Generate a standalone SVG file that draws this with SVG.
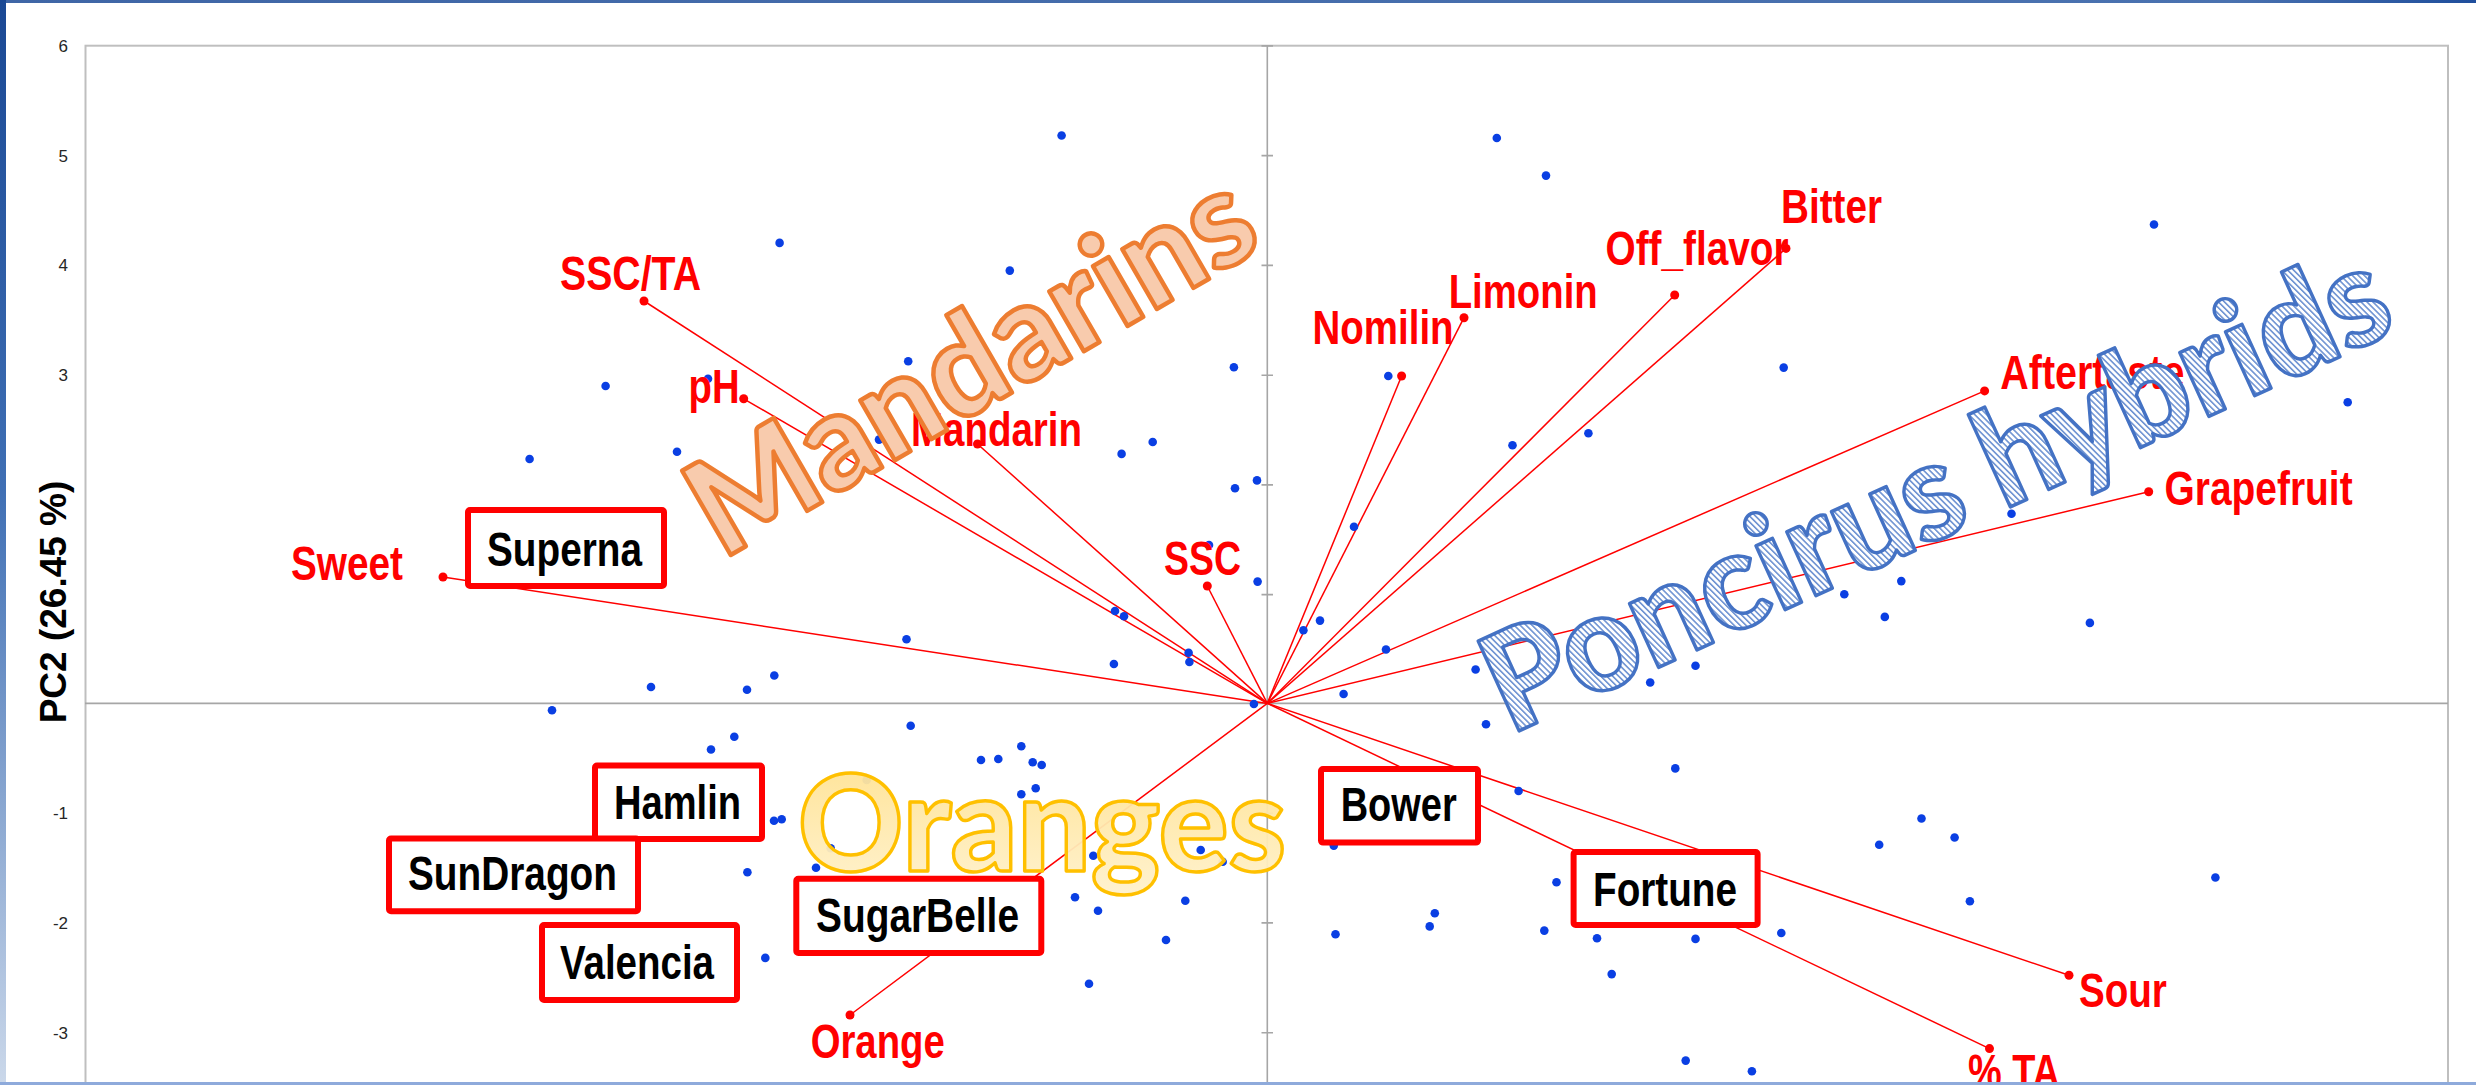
<svg xmlns="http://www.w3.org/2000/svg" width="2476" height="1085" viewBox="0 0 2476 1085">
<style>
.axis{stroke:#a6a6a6;stroke-width:1.6;fill:none}
.frame{stroke:#bfbfbf;stroke-width:2;fill:none}
.vec{stroke:#ff0000;stroke-width:1.5;fill:none}
.pt{fill:#0a3fe3}
.rp{fill:#ff0000}
.lbl{font-family:"Liberation Sans Narrow","Liberation Sans",Arial,sans-serif;font-weight:bold;font-size:48px;fill:#ff0000}
.box rect{fill:#ffffff;stroke:#ff0000;stroke-width:6}
.box text{font-family:"Liberation Sans Narrow","Liberation Sans",Arial,sans-serif;font-weight:bold;font-size:48px;fill:#000000}
.tick{font-family:"Liberation Sans",Arial,sans-serif;font-size:17px;fill:#262626;text-anchor:end}
.big{font-family:Lato,"Open Sans",sans-serif;font-weight:900}
</style>
<defs>
<linearGradient id="gTop" x1="0" y1="0" x2="1" y2="0">
<stop offset="0" stop-color="#3f66a6"/><stop offset="0.9" stop-color="#4a72b0"/><stop offset="1" stop-color="#1f4e9c"/>
</linearGradient>
<linearGradient id="gLeft" x1="0" y1="0" x2="0" y2="1">
<stop offset="0" stop-color="#1a4894"/><stop offset="0.45" stop-color="#3f6fb4"/><stop offset="1" stop-color="#cbd8ea"/>
</linearGradient>
<linearGradient id="gOr" x1="0" y1="0" x2="0" y2="1">
<stop offset="0" stop-color="#ffe08a"/><stop offset="1" stop-color="#fff2cf"/>
</linearGradient>
<pattern id="hatch" patternUnits="userSpaceOnUse" width="4.2" height="4.2" patternTransform="rotate(-20.5)">
<rect width="4.2" height="4.2" fill="#ffffff"/>
<rect width="1.6" height="4.2" fill="#6f93d2"/>
</pattern>
</defs>
<rect x="0" y="0" width="2476" height="1085" fill="#ffffff"/>
<g id="plot">
<rect class="frame" x="85.5" y="45.7" width="2362.5" height="1060"/>
<line class="axis" x1="85" y1="703.4" x2="2448" y2="703.4"/>
<line class="axis" x1="1267.3" y1="45.7" x2="1267.3" y2="1085"/>
<path class="axis" d="M1261.5 45.9H1273M1261.5 155.6H1273M1261.5 265.4H1273M1261.5 375.2H1273M1261.5 484.9H1273M1261.5 594.6H1273M1261.5 813.2H1273M1261.5 922.9H1273M1261.5 1032.7H1273"/>
</g>
<g id="connectors">
<line class="vec" x1="1267.3" y1="703.4" x2="644" y2="301"/>
<line class="vec" x1="1267.3" y1="703.4" x2="743.7" y2="398.8"/>
<line class="vec" x1="1267.3" y1="703.4" x2="977.5" y2="444"/>
<line class="vec" x1="1267.3" y1="703.4" x2="443" y2="577"/>
<line class="vec" x1="1267.3" y1="703.4" x2="1207.3" y2="586"/>
<line class="vec" x1="1267.3" y1="703.4" x2="850" y2="1015"/>
<line class="vec" x1="1267.3" y1="703.4" x2="1401.6" y2="376"/>
<line class="vec" x1="1267.3" y1="703.4" x2="1464" y2="317.7"/>
<line class="vec" x1="1267.3" y1="703.4" x2="1674.7" y2="295"/>
<line class="vec" x1="1267.3" y1="703.4" x2="1786" y2="248.4"/>
<line class="vec" x1="1267.3" y1="703.4" x2="1984.6" y2="390.9"/>
<line class="vec" x1="1267.3" y1="703.4" x2="2148.7" y2="491.7"/>
<line class="vec" x1="1267.3" y1="703.4" x2="2069" y2="975.3"/>
<line class="vec" x1="1267.3" y1="703.4" x2="1989.5" y2="1048.6"/>
</g>
<g id="scores">
<circle class="pt" cx="1061.6" cy="135.5" r="4.3"/><circle class="pt" cx="779.6" cy="242.9" r="4.3"/><circle class="pt" cx="1009.8" cy="270.6" r="4.3"/><circle class="pt" cx="908.2" cy="361.2" r="4.3"/><circle class="pt" cx="1233.9" cy="367.3" r="4.3"/><circle class="pt" cx="605.6" cy="386" r="4.3"/><circle class="pt" cx="708" cy="378.8" r="4.3"/><circle class="pt" cx="677" cy="451.8" r="4.3"/><circle class="pt" cx="529.6" cy="459" r="4.3"/><circle class="pt" cx="879" cy="439.6" r="4.3"/><circle class="pt" cx="1121.6" cy="453.9" r="4.3"/><circle class="pt" cx="1152.7" cy="442" r="4.3"/><circle class="pt" cx="1235" cy="488.2" r="4.3"/><circle class="pt" cx="1257" cy="480.4" r="4.3"/><circle class="pt" cx="1209" cy="545" r="4.3"/><circle class="pt" cx="1257.6" cy="581.6" r="4.3"/><circle class="pt" cx="1115" cy="611" r="4.3"/><circle class="pt" cx="1124" cy="616.3" r="4.3"/><circle class="pt" cx="906.5" cy="639.2" r="4.3"/><circle class="pt" cx="1188.6" cy="652.7" r="4.3"/><circle class="pt" cx="1189.4" cy="662" r="4.3"/><circle class="pt" cx="1113.9" cy="664" r="4.3"/><circle class="pt" cx="774.3" cy="675.5" r="4.3"/><circle class="pt" cx="651" cy="687" r="4.3"/><circle class="pt" cx="747" cy="689.8" r="4.3"/><circle class="pt" cx="1253.9" cy="704" r="4.3"/><circle class="pt" cx="552" cy="710.2" r="4.3"/>
<circle class="pt" cx="734.3" cy="736.7" r="4.3"/><circle class="pt" cx="711" cy="749.5" r="4.3"/><circle class="pt" cx="910.7" cy="725.7" r="4.3"/><circle class="pt" cx="981" cy="760" r="4.3"/><circle class="pt" cx="998.3" cy="759" r="4.3"/><circle class="pt" cx="1021.3" cy="746.3" r="4.3"/><circle class="pt" cx="1032.7" cy="762.3" r="4.3"/><circle class="pt" cx="1041.7" cy="765" r="4.3"/><circle class="pt" cx="1035.7" cy="788.3" r="4.3"/><circle class="pt" cx="1021.3" cy="794.3" r="4.3"/><circle class="pt" cx="866.7" cy="780" r="4.3"/><circle class="pt" cx="781.7" cy="819.3" r="4.3"/><circle class="pt" cx="774" cy="820.7" r="4.3"/><circle class="pt" cx="830.7" cy="848.3" r="4.3"/><circle class="pt" cx="816" cy="867.7" r="4.3"/><circle class="pt" cx="747.4" cy="872.3" r="4.3"/><circle class="pt" cx="765.3" cy="957.9" r="4.3"/><circle class="pt" cx="1093.3" cy="855.7" r="4.3"/><circle class="pt" cx="1200.7" cy="850" r="4.3"/><circle class="pt" cx="1222.7" cy="861.7" r="4.3"/><circle class="pt" cx="1075" cy="897.3" r="4.3"/><circle class="pt" cx="1098" cy="910.7" r="4.3"/><circle class="pt" cx="1185.3" cy="900.7" r="4.3"/><circle class="pt" cx="1166" cy="940" r="4.3"/><circle class="pt" cx="1089" cy="983.7" r="4.3"/>
<circle class="pt" cx="1388.3" cy="376" r="4.3"/><circle class="pt" cx="1496.8" cy="138" r="4.3"/><circle class="pt" cx="1546" cy="175.6" r="4.3"/><circle class="pt" cx="2154" cy="224.5" r="4.3"/><circle class="pt" cx="1783.7" cy="367.6" r="4.3"/><circle class="pt" cx="1354" cy="526.7" r="4.3"/><circle class="pt" cx="1303.4" cy="630.2" r="4.3"/><circle class="pt" cx="1320" cy="620.6" r="4.3"/><circle class="pt" cx="1386" cy="649.5" r="4.3"/><circle class="pt" cx="1512.5" cy="445.2" r="4.3"/><circle class="pt" cx="1588.4" cy="433.2" r="4.3"/><circle class="pt" cx="2347.7" cy="402.2" r="4.3"/><circle class="pt" cx="1343.6" cy="694" r="4.3"/><circle class="pt" cx="1475.6" cy="669.5" r="4.3"/><circle class="pt" cx="2011.5" cy="513.7" r="4.3"/><circle class="pt" cx="1901.3" cy="581.1" r="4.3"/><circle class="pt" cx="1844.3" cy="594.2" r="4.3"/><circle class="pt" cx="1884.8" cy="616.9" r="4.3"/><circle class="pt" cx="2089.9" cy="622.9" r="4.3"/><circle class="pt" cx="1695.5" cy="665.8" r="4.3"/><circle class="pt" cx="1650.2" cy="682.5" r="4.3"/>
<circle class="pt" cx="1486" cy="724.2" r="4.3"/><circle class="pt" cx="1675.3" cy="768.4" r="4.3"/><circle class="pt" cx="1518.6" cy="791" r="4.3"/><circle class="pt" cx="1921.5" cy="818.5" r="4.3"/><circle class="pt" cx="1954.6" cy="837.5" r="4.3"/><circle class="pt" cx="1879.2" cy="844.7" r="4.3"/><circle class="pt" cx="2215.4" cy="877.5" r="4.3"/><circle class="pt" cx="1556.5" cy="882.3" r="4.3"/><circle class="pt" cx="1969.9" cy="901.3" r="4.3"/><circle class="pt" cx="1544.3" cy="930.6" r="4.3"/><circle class="pt" cx="1597" cy="938.3" r="4.3"/><circle class="pt" cx="1695.5" cy="938.9" r="4.3"/><circle class="pt" cx="1781.3" cy="933" r="4.3"/><circle class="pt" cx="1611.7" cy="974.1" r="4.3"/><circle class="pt" cx="1685.7" cy="1060.6" r="4.3"/><circle class="pt" cx="1751.9" cy="1071.3" r="4.3"/><circle class="pt" cx="1333.8" cy="845.6" r="4.3"/><circle class="pt" cx="1335.5" cy="934.3" r="4.3"/><circle class="pt" cx="1434.8" cy="913.3" r="4.3"/><circle class="pt" cx="1429.7" cy="926.4" r="4.3"/>
</g>
<g id="var-ssc-ta"><circle class="rp" cx="644" cy="301" r="4.5"/><text class="lbl" x="560" y="290" textLength="141" lengthAdjust="spacingAndGlyphs">SSC/TA</text></g>
<g id="var-ph"><circle class="rp" cx="743.7" cy="398.8" r="4.5"/><text class="lbl" x="688.6" y="403" textLength="51" lengthAdjust="spacingAndGlyphs">pH</text></g>
<g id="var-mandarin"><circle class="rp" cx="977.5" cy="444" r="4.5"/><text class="lbl" x="911" y="446" textLength="171" lengthAdjust="spacingAndGlyphs">Mandarin</text></g>
<g id="var-sweet"><circle class="rp" cx="443" cy="577" r="4.5"/><text class="lbl" x="291" y="580" textLength="112" lengthAdjust="spacingAndGlyphs">Sweet</text></g>
<g id="var-ssc"><circle class="rp" cx="1207.3" cy="586" r="4.5"/><text class="lbl" x="1164" y="574.7" textLength="77" lengthAdjust="spacingAndGlyphs">SSC</text></g>
<g id="var-orange"><circle class="rp" cx="850" cy="1015" r="4.5"/><text class="lbl" x="810.7" y="1058.3" textLength="134" lengthAdjust="spacingAndGlyphs">Orange</text></g>
<g id="var-nomilin"><circle class="rp" cx="1401.6" cy="376" r="4.5"/><text class="lbl" x="1312.6" y="344" textLength="141" lengthAdjust="spacingAndGlyphs">Nomilin</text></g>
<g id="var-limonin"><circle class="rp" cx="1464" cy="317.7" r="4.5"/><text class="lbl" x="1448.7" y="308" textLength="149" lengthAdjust="spacingAndGlyphs">Limonin</text></g>
<g id="var-off-flavor"><circle class="rp" cx="1674.7" cy="295" r="4.5"/><text class="lbl" x="1605.5" y="264.5" textLength="183" lengthAdjust="spacingAndGlyphs">Off_flavor</text></g>
<g id="var-bitter"><circle class="rp" cx="1786" cy="248.4" r="4.5"/><text class="lbl" x="1781" y="222.7" textLength="101" lengthAdjust="spacingAndGlyphs">Bitter</text></g>
<g id="var-aftertaste"><circle class="rp" cx="1984.6" cy="390.9" r="4.5"/><text class="lbl" x="2000.3" y="388.5" textLength="184" lengthAdjust="spacingAndGlyphs">Aftertaste</text></g>
<g id="var-grapefruit"><circle class="rp" cx="2148.7" cy="491.7" r="4.5"/><text class="lbl" x="2164.6" y="504.8" textLength="188" lengthAdjust="spacingAndGlyphs">Grapefruit</text></g>
<g id="var-sour"><circle class="rp" cx="2069" cy="975.3" r="4.5"/><text class="lbl" x="2078.9" y="1006.9" textLength="88" lengthAdjust="spacingAndGlyphs">Sour</text></g>
<g id="var-ta"><circle class="rp" cx="1989.5" cy="1048.6" r="4.5"/><text class="lbl" x="1968" y="1088" textLength="92" lengthAdjust="spacingAndGlyphs">% TA</text></g>
<g id="superna" class="box"><rect x="468" y="510" width="196" height="76" rx="2"/><text x="487" y="566" textLength="155" lengthAdjust="spacingAndGlyphs">Superna</text></g>
<g id="hamlin" class="box"><rect x="595" y="765.6" width="167" height="73.4" rx="2"/><text x="614" y="819.4" textLength="127" lengthAdjust="spacingAndGlyphs">Hamlin</text></g>
<g id="sundragon" class="box"><rect x="389" y="838.6" width="249" height="72.6" rx="2"/><text x="408" y="890" textLength="209" lengthAdjust="spacingAndGlyphs">SunDragon</text></g>
<g id="valencia" class="box"><rect x="542" y="925" width="195" height="75" rx="2"/><text x="560" y="979" textLength="154" lengthAdjust="spacingAndGlyphs">Valencia</text></g>
<g id="sugarbelle" class="box"><rect x="796.3" y="878.7" width="245" height="74.3" rx="2"/><text x="816" y="931.7" textLength="203" lengthAdjust="spacingAndGlyphs">SugarBelle</text></g>
<g id="bower" class="box"><rect x="1321" y="769" width="157" height="73.6" rx="2"/><text x="1340.7" y="820.7" textLength="116" lengthAdjust="spacingAndGlyphs">Bower</text></g>
<g id="fortune" class="box"><rect x="1573.6" y="852" width="184" height="73" rx="2"/><text x="1593" y="906" textLength="144" lengthAdjust="spacingAndGlyphs">Fortune</text></g>
<g id="group-labels">
<text class="big" transform="translate(722,560) rotate(-30)" x="0" y="0" font-size="134" fill="#f8cbad" stroke="#ed7d31" stroke-width="4.5" stroke-linejoin="round" textLength="628" lengthAdjust="spacingAndGlyphs">Mandarins</text>
<text class="big" x="798" y="871" font-size="134" fill="url(#gOr)" fill-opacity="0.95" stroke="#ffc000" stroke-width="3.5" stroke-linejoin="round" textLength="488" lengthAdjust="spacingAndGlyphs">Oranges</text>
<text class="big" transform="translate(1510,735) rotate(-24.5)" x="0" y="0" font-size="136" fill="url(#hatch)" stroke="#4472c4" stroke-width="3.5" stroke-linejoin="round" textLength="978" lengthAdjust="spacingAndGlyphs">Poncirus hybrids</text>
</g>
<g id="y-axis-labels">
<text class="tick" x="68" y="52">6</text>
<text class="tick" x="68" y="161.6">5</text>
<text class="tick" x="68" y="271.4">4</text>
<text class="tick" x="68" y="381.2">3</text>
<text class="tick" x="68" y="819.2">-1</text>
<text class="tick" x="68" y="928.9">-2</text>
<text class="tick" x="68" y="1038.7">-3</text>
<text transform="translate(66.3,602) rotate(-90)" x="0" y="0" text-anchor="middle" font-family="'Liberation Sans',Arial,sans-serif" font-weight="bold" font-size="37" fill="#000000">PC2 (26.45 %)</text>
</g>
<g id="border">
<rect x="0" y="0" width="2476" height="3" fill="url(#gTop)"/>
<rect x="0" y="0" width="6" height="1085" fill="url(#gLeft)"/>
<rect x="0" y="1082" width="2476" height="3" fill="#8eaadb"/>
</g>
</svg>
